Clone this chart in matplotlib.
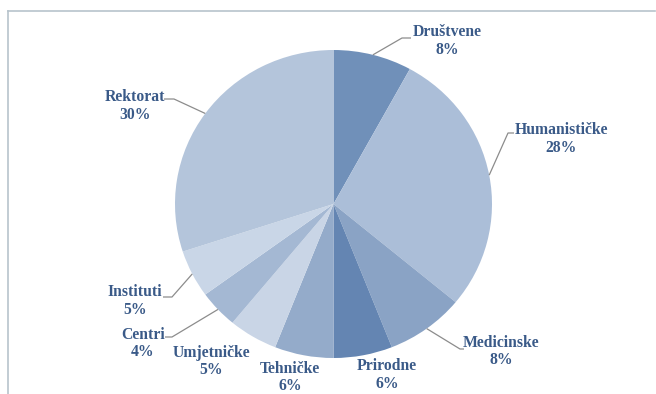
import numpy as np
import matplotlib
matplotlib.use("Agg")
import matplotlib.pyplot as plt

# Data
categories = ["Društvene", "Humanističke", "Medicinske", "Prirodne", "Tehničke",
              "Umjetničke", "Centri", "Instituti", "Rektorat"]
shares = [8, 28, 8, 6, 6, 5, 4, 5, 30]
colors = ["#7090b9", "#abbed8", "#8aa3c5", "#6485b2", "#94abca",
          "#c9d5e6", "#a4b8d3", "#c9d6e7", "#b4c5db"]

W, H = 656, 394
fig = plt.figure(figsize=(W / 100, H / 100), dpi=100)
fig.patch.set_facecolor("white")

# pie geometry (pixels)
cx, cy, rx, ry = 333.5, 204.0, 158.5, 154.0

ax_pie = fig.add_axes([(cx - rx) / W, (H - (cy + ry)) / H, 2 * rx / W, 2 * ry / H])
wedges, _ = ax_pie.pie(shares, colors=colors, startangle=90, counterclock=False,
                       radius=1, wedgeprops=dict(linewidth=0))
ax_pie.set_xlim(-1, 1)
ax_pie.set_ylim(-1, 1)
ax_pie.set_aspect("auto")
ax_pie.axis("off")

# overlay axes in pixel coordinates
ov = fig.add_axes([0, 0, 1, 1], facecolor="none")
ov.set_xlim(0, W)
ov.set_ylim(H, 0)
ov.axis("off")

# frame lines
ov.plot([7.5, 7.5], [11, H], color="#b7c3cc", lw=1.2)
ov.plot([7.5, 655], [11, 11], color="#b7c3cc", lw=1.2)

txt_color = "#3a5a88"
font = dict(family=["Liberation Serif", "DejaVu Serif"], weight="bold", size=11.3,
            color=txt_color, ha="center", va="center", linespacing=1.15)

# label layout: (text centre x, first line y), leader elbow (x, y), leader end x or None
label_pos = {
    "Društvene": (447, 32, (402, 38), 411),
    "Humanističke": (561, 130, (508, 133), 514),
    "Medicinske": (501, 343, (460, 349), 464),
    "Prirodne": (387, 366, None, None),
    "Tehničke": (290, 369, None, None),
    "Umjetničke": (211, 353, None, None),
    "Centri": (143, 335, (172, 337), 165),
    "Instituti": (135, 292, (172, 297), 163),
    "Rektorat": (135, 97, (174, 99), 164),
}

for w, cat, val in zip(wedges, categories, shares):
    tx, ty, elbow, endx = label_pos[cat]
    ov.text(tx, ty, cat, **font)
    ov.text(tx, ty + 17.5, f"{val}%", **font)
    if elbow is not None:
        mid = np.deg2rad((w.theta1 + w.theta2) / 2)
        px = cx + rx * np.cos(mid)
        py = cy - ry * np.sin(mid)
        ov.plot([px, elbow[0], endx], [py, elbow[1], elbow[1]],
                color="#8c8c8c", lw=0.9, solid_capstyle="butt")

fig.savefig("out.png", dpi=100, facecolor="white")
